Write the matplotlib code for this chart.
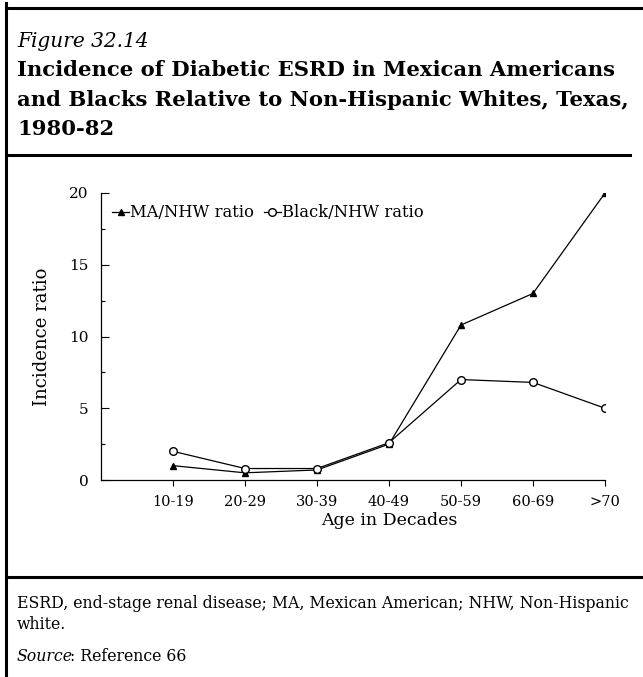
import matplotlib.pyplot as plt
from matplotlib.lines import Line2D
from matplotlib.ticker import MultipleLocator

# data
ages = ['10-19', '20-29', '30-39', '40-49', '50-59', '60-69', '>70']
ma_nhw = [1.0, 0.5, 0.7, 2.5, 10.8, 13.0, 20.0]
black_nhw = [2.0, 0.8, 0.8, 2.6, 7.0, 6.8, 5.0]

plt.rcParams['font.family'] = ['DejaVu Serif']

fig = plt.figure(figsize=(6.43, 6.77), dpi=100)
W, H = 643.0, 677.0

# frame lines (left border, top border, rules)
fig.add_artist(Line2D([6/W, 6/W], [0, 1 - 3/H], color='black', lw=2.2))
fig.add_artist(Line2D([6/W, 1], [1 - 8/H, 1 - 8/H], color='black', lw=2.2))
fig.add_artist(Line2D([8/W, 630/W], [1 - 155/H, 1 - 155/H], color='black', lw=2.2))
fig.add_artist(Line2D([8/W, 1], [1 - 577/H, 1 - 577/H], color='black', lw=2.2))

# heading (positions are baselines)
fig.text(17/W, 1 - 47/H, 'Figure 32.14', style='italic', fontsize=14.5, va='baseline')
fig.text(17/W, 1 - 76/H, 'Incidence of Diabetic ESRD in Mexican Americans',
         fontweight='bold', fontsize=15.2, va='baseline')
fig.text(17/W, 1 - 106/H, 'and Blacks Relative to Non-Hispanic Whites, Texas,',
         fontweight='bold', fontsize=15.2, va='baseline')
fig.text(17/W, 1 - 135/H, '1980-82', fontweight='bold', fontsize=15.2, va='baseline')

# footnotes
fig.text(17/W, 1 - 608/H, 'ESRD, end-stage renal disease; MA, Mexican American; NHW, Non-Hispanic',
         fontsize=11.3, va='baseline')
fig.text(17/W, 1 - 629/H, 'white.', fontsize=11.3, va='baseline')
src = fig.text(17/W, 1 - 661/H, 'Source', style='italic', fontsize=11.3, va='baseline')
fig.canvas.draw()
bb = src.get_window_extent()
fig.text((bb.x1 - 3) / W, 1 - 661/H, ': Reference 66', fontsize=11.3, va='baseline')

ax = fig.add_axes([101/W, 1 - 480/H, 504/W, 287/H])
x = range(1, len(ages) + 1)
ax.plot(x, ma_nhw, color='black', lw=0.9, marker='^', ms=5, label='MA/NHW ratio')
ax.plot(x, black_nhw, color='black', lw=0.9, marker='o', ms=5.5, mfc='white',
        label='Black/NHW ratio')

ax.set_xlim(0, 7)
ax.set_ylim(0, 20)
ax.set_xticks(list(x))
ax.set_xticklabels(ages, fontsize=10.5)
ax.set_yticks([0, 5, 10, 15, 20])
ax.yaxis.set_minor_locator(MultipleLocator(2.5))
ax.tick_params(axis='y', direction='in', length=6, width=0.8, labelsize=11, pad=9)
ax.tick_params(axis='y', which='minor', direction='in', length=3, width=0.8)
ax.tick_params(axis='x', direction='out', length=4, width=0.8, pad=7)
for s in ['top', 'right']:
    ax.spines[s].set_visible(False)
for s in ['left', 'bottom']:
    ax.spines[s].set_linewidth(0.9)

ax.set_ylabel('Incidence ratio', fontsize=13, labelpad=13)
ax.set_xlabel('Age in Decades', fontsize=12.5)
ax.xaxis.set_label_coords(4/7, -0.11)

ax.legend(loc='upper left', ncol=2, frameon=False, fontsize=11.8, handlelength=1.0,
          handletextpad=0.1, columnspacing=0.6, borderaxespad=0.3,
          bbox_to_anchor=(0.0, 1.0))

fig.savefig('out.png', dpi=100)
